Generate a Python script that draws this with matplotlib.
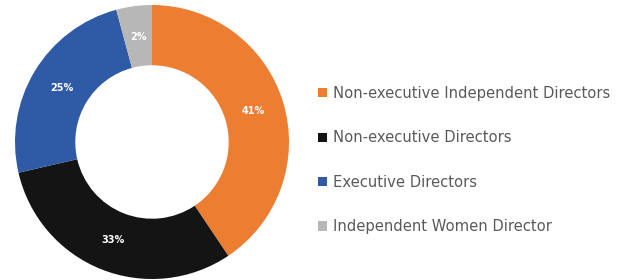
import numpy as np
import matplotlib.pyplot as plt
from matplotlib.patches import Patch

# board composition (wedge sizes, printed labels as shown)
categories = ["Non-executive Independent Directors", "Non-executive Directors",
              "Executive Directors", "Independent Women Director"]
shares = [40.6, 30.8, 24.4, 4.2]
pct_labels = ["41%", "33%", "25%", "2%"]
colors = ["#ED7D31", "#141414", "#2E5AA6", "#B7B7B7"]

fig = plt.figure(figsize=(6.17, 2.8), dpi=100)

# donut on the left
ax = fig.add_axes([(152 - 137) / 617, (280 - 142 - 137) / 280, 274 / 617, 274 / 280])
wedges, _ = ax.pie(shares, colors=colors, startangle=90, counterclock=False,
                   wedgeprops=dict(width=0.44, edgecolor="none"))
ax.set_xlim(-1, 1)
ax.set_ylim(-1, 1)
ax.set_aspect("equal")

# percentage labels in the middle of the ring
for w, txt in zip(wedges, pct_labels):
    mid = np.deg2rad((w.theta1 + w.theta2) / 2)
    ax.text(0.77 * np.cos(mid), 0.77 * np.sin(mid), txt, ha="center", va="center",
            color="white", fontsize=7, fontweight="bold")

# legend on the right
handles = [Patch(facecolor=c, edgecolor="none") for c in colors]
fig.legend(handles, categories, loc="upper left", bbox_to_anchor=(318 / 617, 1 - 86 / 280),
           frameon=False, fontsize=10.6, labelcolor="#595959",
           handlelength=0.6, handleheight=0.6, handletextpad=0.45,
           labelspacing=2.0, borderaxespad=0, borderpad=0)

fig.savefig("out.png", dpi=100)
